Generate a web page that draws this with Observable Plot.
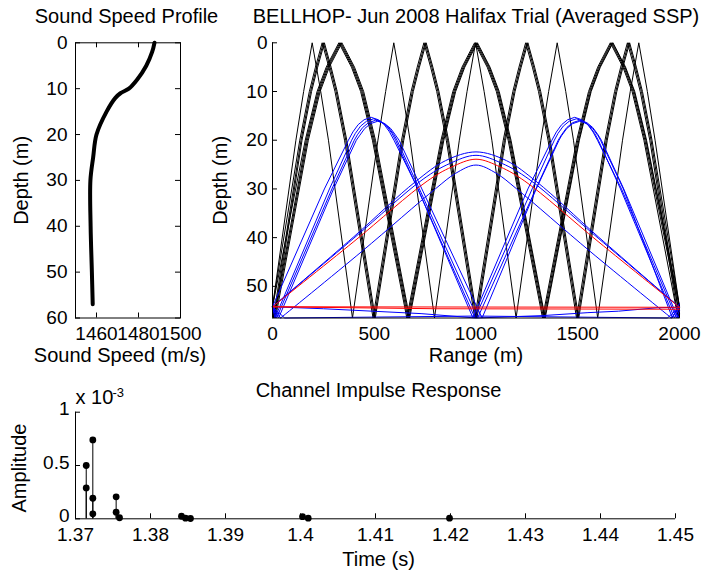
<!DOCTYPE html>
<html><head><meta charset="utf-8">
<script src="https://cdn.jsdelivr.net/npm/d3@7"></script>
<script src="https://cdn.jsdelivr.net/npm/@observablehq/plot@0.6"></script>
<style>
body{margin:0;background:#fff}
#chart{position:relative;width:709px;height:577px;background:#fff}
#chart svg{position:absolute;left:0;top:0}
</style></head><body><div id="chart"></div>
<script>
// ---------- Sound speed profile ----------
const sspDepth = [0, 2, 5, 8, 10, 11, 12, 15, 20, 25, 30, 40, 50, 57];
const sspSpeed = [1487.6, 1486.5, 1483.7, 1479.4, 1475.4, 1471.4, 1469.0, 1464.8, 1460.0, 1458.4, 1457.1, 1457.2, 1457.8, 1458.2];
const sspXTicks = [1460, 1480, 1500];
const depthTicksL = [0, 10, 20, 30, 40, 50, 60];

// ---------- Ray trace (range m, depth m) ----------
const rangeTicks = [0, 500, 1000, 1500, 2000];
const depthTicksR = [0, 10, 20, 30, 40, 50];
// black: surface/bottom reflected rays
const rayA1 = [[0,54.2],[161,20],[219,10],[264,5],[326,0],[388,5],[433,10],[491,20],[660,56.5],[828,20],[886,10],[931,5],[993,0],[1055,5],[1100,10],[1158,20],[1327,56.5],[1495,20],[1553,10],[1598,5],[1660,0],[1722,5],[1767,10],[1825,20],[1993,56.5],[2000,55]];
const rayA2 = [[0,54.2],[6,56.5],[166,20],[224,10],[269,5],[331,0],[393,5],[438,10],[496,20],[665,56.5],[833,20],[891,10],[936,5],[998,0],[1060,5],[1105,10],[1163,20],[1332,56.5],[1500,20],[1558,10],[1603,5],[1665,0],[1727,5],[1772,10],[1830,20],[2000,55.5]];
const rayA3 = [[0,54.2],[10,56.5],[171,20],[229,10],[274,5],[336,0],[398,5],[443,10],[501,20],[670,56.5],[838,20],[896,10],[941,5],[1003,0],[1065,5],[1110,10],[1168,20],[1337,56.5],[1505,20],[1563,10],[1608,5],[1670,0],[1732,5],[1777,10],[1835,20],[2000,54.3]];
const rayA4 = [[0,54.2],[15,56.5],[176,20],[234,10],[279,5],[341,0],[403,5],[448,10],[506,20],[674,56.5],[842,20],[900,10],[945,5],[1007,0],[1069,5],[1114,10],[1172,20],[1340,56.5],[1508,20],[1566,10],[1611,5],[1673,0],[1735,5],[1780,10],[1838,20],[2000,54.3]];
const rayB1 = [[0,54.2],[134,20],[181,10],[211,5],[244,0],[277,5],[307,10],[354,20],[494,56.5],[634,20],[681,10],[711,5],[744,0],[777,5],[807,10],[854,20],[994,56.5],[1134,20],[1181,10],[1211,5],[1244,0],[1277,5],[1307,10],[1354,20],[1494,56.5],[1634,20],[1681,10],[1711,5],[1744,0],[1777,5],[1807,10],[1854,20],[1994,56.5],[2000,54.5]];
const rayB2 = [[0,54.2],[4,56.5],[140,20],[187,10],[217,5],[250,0],[283,5],[313,10],[360,20],[500,56.5],[640,20],[687,10],[717,5],[750,0],[783,5],[813,10],[860,20],[1000,56.5],[1140,20],[1187,10],[1217,5],[1250,0],[1283,5],[1313,10],[1360,20],[1500,56.5],[1640,20],[1687,10],[1717,5],[1750,0],[1783,5],[1813,10],[1860,20],[2000,56.5]];
const rayB3 = [[0,54.2],[9,56.5],[145,20],[192,10],[222,5],[255,0],[288,5],[318,10],[365,20],[505,56.5],[645,20],[692,10],[722,5],[755,0],[788,5],[818,10],[865,20],[1005,56.5],[1145,20],[1192,10],[1222,5],[1255,0],[1288,5],[1318,10],[1365,20],[1505,56.5],[1645,20],[1692,10],[1722,5],[1755,0],[1788,5],[1818,10],[1865,20],[2000,54.3]];
const rayC1 = [[0,54.2],[115,20],[153,10],[195,0],[237,10],[275,20],[393,56.5],[518,20],[556,10],[596,0],[638,10],[676,20],[796,56.5],[918,20],[956,10],[998,0],[1040,10],[1078,20],[1197,56.5],[1319,20],[1357,10],[1399,0],[1441,10],[1479,20],[1598,56.5],[1720,20],[1758,10],[1800,0],[1842,10],[1880,20],[2000,54.3]];
// blue: refracted rays turning near 16 m (bottom bounce at ~1000 m)
const rayD1 = [[0,54.2],[255,30],[373,20],[395,18.3],[421,16.8],[450,15.8],[485,15.3],[520,15.8],[549,16.8],[575,18.3],[597,20],[715,30],[985,56.5],[1255,30],[1373,20],[1395,18.3],[1421,16.8],[1450,15.8],[1485,15.3],[1520,15.8],[1549,16.8],[1575,18.3],[1597,20],[1715,30],[1985,56.5],[2000,55]];
const rayD2 = [[0,54.2],[12,56.5],[280,30],[389,20],[407,18.6],[433,17.1],[462,16.1],[497,15.6],[532,16.1],[561,17.1],[587,18.6],[605,20],[714,30],[995,56.5],[1276,30],[1385,20],[1403,18.6],[1429,17.1],[1458,16.1],[1493,15.6],[1528,16.1],[1557,17.1],[1583,18.6],[1601,20],[1710,30],[1975,56.5],[2000,54.3]];
const rayD3 = [[0,54.2],[20,56.5],[292,30],[402,20],[417,18.9],[443,17.4],[472,16.4],[507,15.9],[542,16.4],[571,17.4],[597,18.9],[612,20],[722,30],[1008,56.5],[1294,30],[1404,20],[1420,18.9],[1446,17.4],[1475,16.4],[1510,15.9],[1545,16.4],[1574,17.4],[1600,18.9],[1616,20],[1726,30],[1992,56.5],[2000,55.8]];
const rayD4 = [[0,54.2],[30,56.5],[300,30],[412,20],[427,19.1],[453,17.6],[482,16.6],[517,16.1],[552,16.6],[581,17.6],[607,19.1],[622,20],[734,30],[1030,56.5],[1296,30],[1408,20],[1420,19.1],[1446,17.6],[1475,16.6],[1510,16.1],[1545,16.6],[1574,17.6],[1600,19.1],[1612,20],[1724,30],[1965,56.5],[2000,53.5]];
// blue: single-arch rays turning near 23-25 m at 1000 m
const rayE1 = [[0,54.2],[400,39.8],[700,28.6],[850,24.2],[1000,22.4],[1150,24.2],[1300,28.6],[1600,39.8],[2000,54.3]];
const rayE2 = [[0,54.2],[400,40.1],[740,28],[870,24.8],[1000,23.1],[1130,24.8],[1260,28],[1600,40.1],[2000,54.3]];
const rayE3 = [[40,56.5],[440,42.8],[800,30],[900,26.8],[1000,25.1],[1100,26.8],[1200,30],[1560,42.8],[1960,56.5]];
const rayE3start = [[0,54.2],[40,56.5]];
const rayE3end = [[1960,56.5],[2000,54.3]];
// blue: near-bottom rays
const rayN1 = [[0,54.2],[250,54.6],[730,55.6],[1000,56.5],[1330,56],[1550,55.4],[1700,55.1],[1890,54.4],[2000,54.3]];
const rayN2 = [[0,54.2],[60,56.5],[1000,56.1],[1940,56.5],[2000,54.3]];
// red: eigenrays
const rayR1 = [[0,54.2],[400,40.8],[760,28.4],[880,25.5],[1000,23.9],[1120,25.5],[1240,28.4],[1600,40.8],[2000,54.3]];
const rayR2 = [[0,54.2],[2000,54.3]];
const rayR3 = [[0,54.2],[800,54.6],[2000,54.7]];

// ---------- Channel impulse response ----------
const arrivalTime = [1.37143, 1.37143, 1.37231, 1.37231, 1.37231, 1.37542, 1.37542, 1.37587, 1.38413, 1.38467, 1.38533, 1.40027, 1.40103, 1.41987];
const arrivalAmp  = [0.50, 0.29, 0.74, 0.193, 0.047, 0.206, 0.062, 0.010, 0.024, 0.006, 0.003, 0.020, 0.006, 0.006];
const timeTicks  = [1.37, 1.38, 1.39, 1.40, 1.41, 1.42, 1.43, 1.44, 1.45];
const timeLabels = ["1.37", "1.38", "1.39", "1.4", "1.41", "1.42", "1.43", "1.44", "1.45"];
const ampTicks   = [0, 0.5, 1];
const ampLabels  = ["0", "0.5", "1"];

// ---------- layout ----------
const W = 709, H = 577;
const FONT = '"Liberation Sans", Arial, Helvetica, sans-serif';
const TICK = 19, LAB = 20;
const styleObj = {background: "transparent", overflow: "visible", fontFamily: FONT, fontSize: TICK + "px", color: "black"};

function toRows(groups) {
  const rows = [];
  for (const [name, pts] of Object.entries(groups)) for (const [r, d] of pts) rows.push({ray: name, r, d});
  return rows;
}
const blackRows = toRows({rayA1, rayA2, rayA3, rayA4, rayB1, rayB2, rayB3, rayC1});
const blueRows = toRows({rayD1, rayD2, rayD3, rayD4, rayN1, rayN2, rayE3start, rayE3end});
const blueArchRows = toRows({rayE1, rayE2, rayE3});
const redArchRows = toRows({rayR1});
const redRows = toRows({rayR2, rayR3});

// Left panel
const L = {left: 75, right: 180, top: 42.3, bottom: 317.5};
const Lw = L.right - L.left, Lh = L.bottom - L.top;
const sspRows = sspDepth.map((d, i) => ({d, c: sspSpeed[i]}));
const left = Plot.plot({
  width: W, height: H, style: styleObj,
  marginLeft: L.left, marginRight: W - L.right, marginTop: L.top, marginBottom: H - L.bottom,
  x: {domain: [1450, 1500], label: null},
  y: {domain: [0, 60], reverse: true, label: null},
  marks: [
    Plot.frame({stroke: "black", strokeWidth: 1}),
    Plot.tickX(sspXTicks, {x: d => d, insetTop: Lh - 5, stroke: "black"}),
    Plot.tickX(sspXTicks, {x: d => d, insetBottom: Lh - 5, stroke: "black"}),
    Plot.tickY(depthTicksL, {y: d => d, insetRight: Lw - 5, stroke: "black"}),
    Plot.tickY(depthTicksL, {y: d => d, insetLeft: Lw - 5, stroke: "black"}),
    Plot.axisX(sspXTicks, {label: null, tickSize: 0, tickPadding: 8, tickFormat: d => `${d}`, fontSize: TICK}),
    Plot.axisY(depthTicksL, {label: null, tickSize: 0, tickPadding: 8, tickFormat: d => `${d}`, fontSize: TICK}),
    Plot.line(sspRows, {x: "c", y: "d", stroke: "black", strokeWidth: 4, curve: "catmull-rom"}),
    Plot.text(["Sound Speed Profile"], {frameAnchor: "top", textAnchor: "middle", lineAnchor: "bottom", dx: -1.5, dy: -(L.top - 22), fontSize: LAB}),
    Plot.text(["Sound Speed (m/s)"], {frameAnchor: "bottom", textAnchor: "middle", lineAnchor: "bottom", dx: -8, dy: 361 - L.bottom, fontSize: LAB}),
    Plot.text(["Depth (m)"], {frameAnchor: "left", textAnchor: "middle", rotate: -90, dx: 21 - L.left, fontSize: LAB})
  ]
});

// Right panel
const R = {left: 272, right: 679, top: 42.3, bottom: 317.5};
const Rw = R.right - R.left, Rh = R.bottom - R.top;
const rangeDomain = [0, 2000], depthDomain = [0, 56.5];
const right = Plot.plot({
  width: W, height: H, style: styleObj,
  marginLeft: R.left, marginRight: W - R.right, marginTop: R.top, marginBottom: H - R.bottom,
  x: {domain: rangeDomain, label: null},
  y: {domain: depthDomain, reverse: true, label: null},
  marks: [
    Plot.line(blackRows, {x: "r", y: "d", z: "ray", stroke: "black", strokeWidth: 1}),
    Plot.line(blueRows, {x: "r", y: "d", z: "ray", stroke: "#0000ff", strokeWidth: 1}),
    Plot.line(blueArchRows, {x: "r", y: "d", z: "ray", stroke: "#0000ff", strokeWidth: 1, curve: "catmull-rom"}),
    Plot.line(redRows, {x: "r", y: "d", z: "ray", stroke: "#ff0000", strokeWidth: 1}),
    Plot.line(redArchRows, {x: "r", y: "d", z: "ray", stroke: "#ff0000", strokeWidth: 1, curve: "catmull-rom"}),
    Plot.ruleX([rangeDomain[0]], {stroke: "black"}),
    Plot.ruleY([depthDomain[1]], {stroke: "black"}),
    Plot.tickX(rangeTicks, {x: d => d, insetTop: Rh - 5, stroke: "black"}),
    Plot.tickY(depthTicksR, {y: d => d, insetRight: Rw - 5, stroke: "black"}),
    Plot.axisX(rangeTicks, {label: null, tickSize: 0, tickPadding: 8, tickFormat: d => `${d}`, fontSize: TICK}),
    Plot.axisY(depthTicksR, {label: null, tickSize: 0, tickPadding: 5, tickFormat: d => `${d}`, fontSize: TICK}),
    Plot.text(["BELLHOP- Jun 2008 Halifax Trial (Averaged SSP)"], {frameAnchor: "top", textAnchor: "middle", lineAnchor: "bottom", dy: -(R.top - 22), fontSize: LAB}),
    Plot.text(["Range (m)"], {frameAnchor: "bottom", textAnchor: "middle", lineAnchor: "bottom", dy: 361 - R.bottom, fontSize: LAB}),
    Plot.text(["Depth (m)"], {frameAnchor: "left", textAnchor: "middle", rotate: -90, dx: 220 - R.left, fontSize: LAB})
  ]
});

// Bottom panel
const B = {left: 75, right: 675, top: 411.7, bottom: 518.3};
const Bw = B.right - B.left, Bh = B.bottom - B.top;
const timeDomain = [1.37, 1.45], ampDomain = [0, 1];
const stemRows = arrivalTime.map((t, i) => ({t, a: arrivalAmp[i]}));
const bottom = Plot.plot({
  width: W, height: H, style: styleObj,
  marginLeft: B.left, marginRight: W - B.right, marginTop: B.top, marginBottom: H - B.bottom,
  x: {domain: timeDomain, label: null},
  y: {domain: ampDomain, label: null},
  marks: [
    Plot.ruleX([timeDomain[0]], {stroke: "black"}),
    Plot.ruleY([ampDomain[0]], {stroke: "black"}),
    Plot.tickX(timeTicks, {x: d => d, insetTop: Bh - 5, stroke: "black"}),
    Plot.tickY(ampTicks, {y: d => d, insetRight: Bw - 5, stroke: "black"}),
    Plot.axisX(timeTicks, {label: null, tickSize: 0, tickPadding: 9, tickFormat: d => timeLabels[timeTicks.indexOf(d)], fontSize: TICK}),
    Plot.axisY(ampTicks, {label: null, tickSize: 0, tickPadding: 6, dy: -3, tickFormat: d => ampLabels[ampTicks.indexOf(d)], fontSize: TICK}),
    Plot.ruleX(stemRows, {x: "t", y1: 0, y2: "a", stroke: "black", strokeWidth: 1}),
    Plot.dot(stemRows, {x: "t", y: "a", r: 3.4, fill: "black", stroke: "none"}),
    Plot.text(["Channel Impulse Response"], {frameAnchor: "top", textAnchor: "middle", lineAnchor: "bottom", dx: 3, dy: 396 - B.top, fontSize: LAB}),
    Plot.text(["x 10"], {frameAnchor: "top-left", textAnchor: "start", lineAnchor: "bottom", dx: 0, dy: 403 - B.top, fontSize: LAB}),
    Plot.text(["-3"], {frameAnchor: "top-left", textAnchor: "start", lineAnchor: "bottom", dx: 37, dy: 396 - B.top, fontSize: 13}),
    Plot.text(["Time (s)"], {frameAnchor: "bottom", textAnchor: "middle", lineAnchor: "bottom", dx: 3, dy: 565 - B.bottom, fontSize: LAB}),
    Plot.text(["Amplitude"], {frameAnchor: "left", textAnchor: "middle", rotate: -90, dx: 19 - B.left, dy: 2.5, fontSize: LAB})
  ]
});

document.getElementById("chart").append(left, right, bottom);
</script></body></html>
